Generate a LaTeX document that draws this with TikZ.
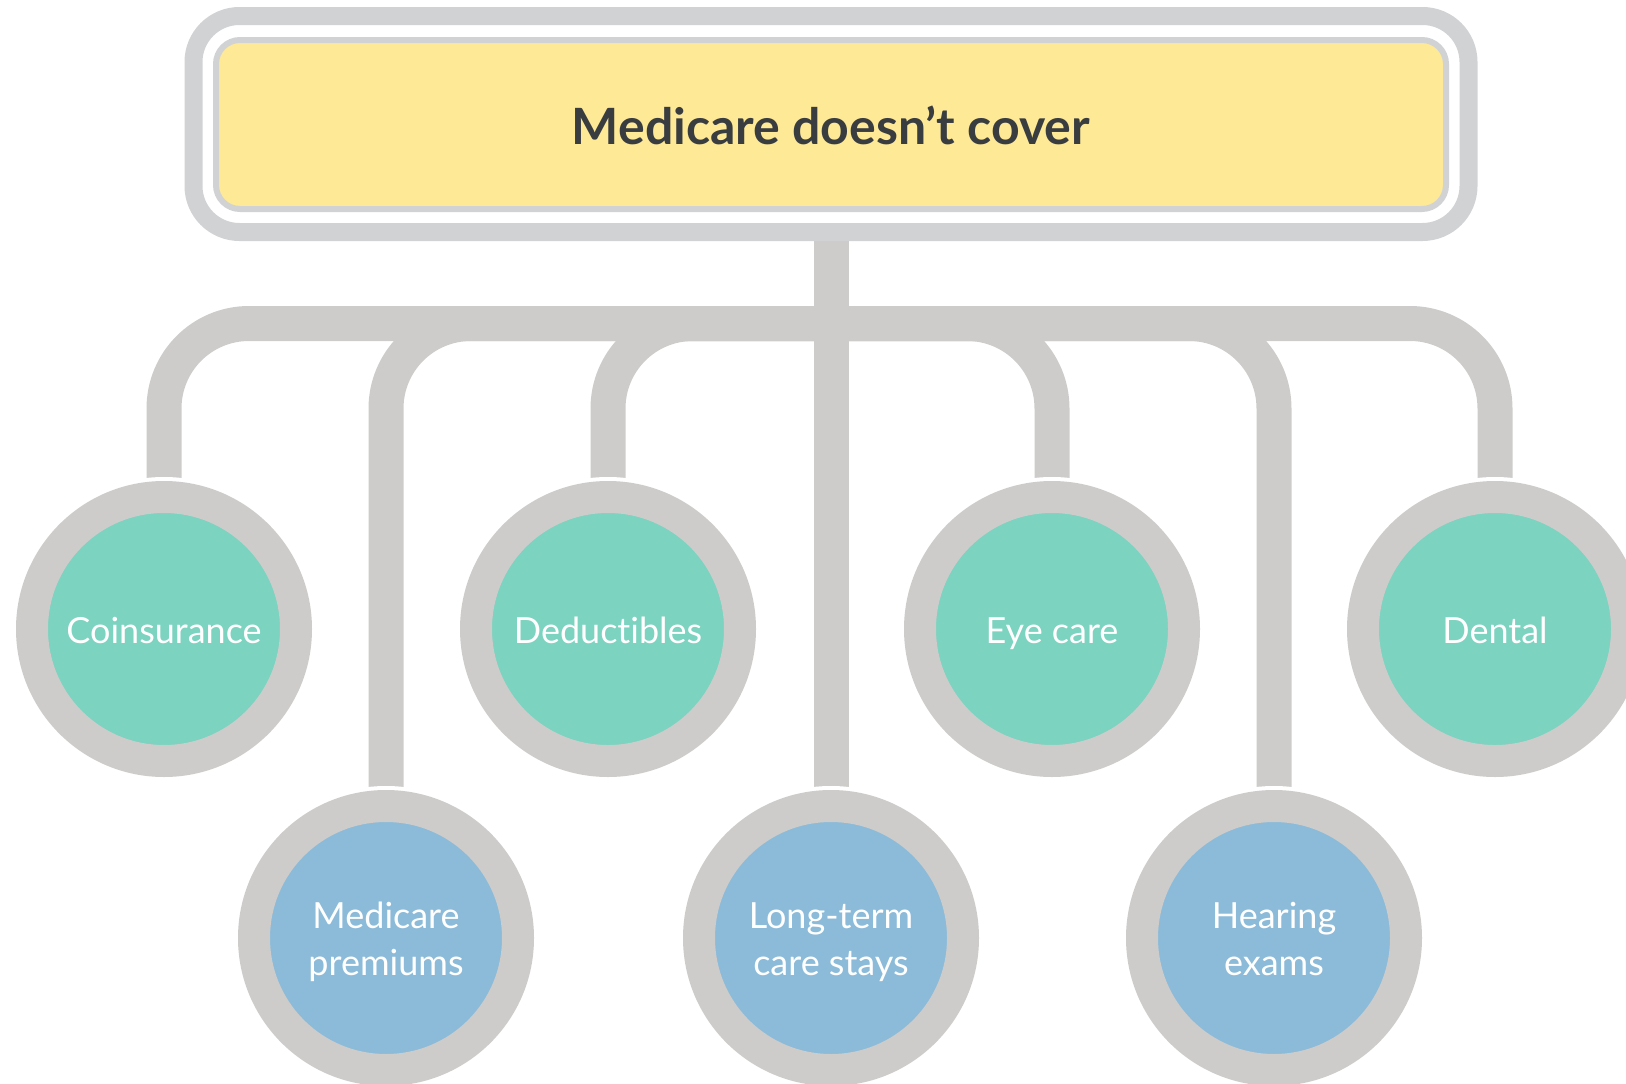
\documentclass[tikz,border=0pt]{standalone}
\usepackage{fontspec}
\setmainfont{Lato}[Ligatures=NoCommon]
\usetikzlibrary{backgrounds}

\definecolor{framegray}{RGB}{209,210,212}
\definecolor{ringgray}{RGB}{205,204,202}
\definecolor{titleyellow}{RGB}{254,233,150}
\definecolor{titleink}{RGB}{58,61,64}
\definecolor{tealfill}{RGB}{123,211,192}
\definecolor{bluefill}{RGB}{139,187,217}

\tikzset{
  outerframe/.style={draw=framegray, line width=18pt, rounded corners=46pt,
    minimum width=1275pt, minimum height=216pt, inner sep=0pt},
  titlebox/.style={draw=framegray, fill=titleyellow, line width=6pt, rounded corners=24pt,
    minimum width=1230pt, minimum height=169pt, inner sep=0pt,
    text=titleink, font=\bfseries\fontsize{50}{56}\selectfont,
    text height=39pt, text depth=0pt},
  item/.style={circle, minimum size=264pt, inner sep=0pt, line width=32pt,
    draw=ringgray, text=white, align=center,
    font=\fontsize{36}{47}\selectfont,
    preaction={draw=white, line width=40pt}},
  upper/.style={item, fill=tealfill, text height=28pt, text depth=0pt},
  lower/.style={item, fill=bluefill, text height=74pt, text depth=0pt},
  link/.style={draw=ringgray, line width=35pt, line cap=butt},
}

\begin{document}
\begin{tikzpicture}[x=1pt, y=-1pt]
  \useasboundingbox (0,0) rectangle (1626,1084);
  \clip (0,0) rectangle (1626,1084);

  % heading
  \node[outerframe] (frame) at (831,124) {};
  \node[titlebox] (title) at (831,124.5) {Medicare doesn’t cover};

  % junction on the horizontal bar
  \coordinate (hub) at (831,323.5);

  % top row
  \node[upper] (coins)  at (164,629)  {Coinsurance};
  \node[upper] (deduct) at (608,629)  {Deductibles};
  \node[upper] (eye)    at (1052,629) {Eye care};
  \node[upper] (dental) at (1495,629) {Dental};

  % bottom row
  \node[lower] (premiums) at (386,938)  {Medicare\\premiums};
  \node[lower] (ltc)      at (831,938)  {Long-term\\care stays};
  \node[lower] (hearing)  at (1274,938) {Hearing\\exams};

  \begin{pgfonlayer}{background}
    \draw[link] (frame.south) -- (hub);
    \draw[link] (hub) -- (ltc.north);
    \draw[link, rounded corners=85pt] (hub) -| (coins.north);
    \draw[link, rounded corners=85pt] (hub) -| (premiums.north);
    \draw[link, rounded corners=85pt] (hub) -| (deduct.north);
    \draw[link, rounded corners=85pt] (hub) -| (eye.north);
    \draw[link, rounded corners=85pt] (hub) -| (hearing.north);
    \draw[link, rounded corners=85pt] (hub) -| (dental.north);
  \end{pgfonlayer}
\end{tikzpicture}
\end{document}
